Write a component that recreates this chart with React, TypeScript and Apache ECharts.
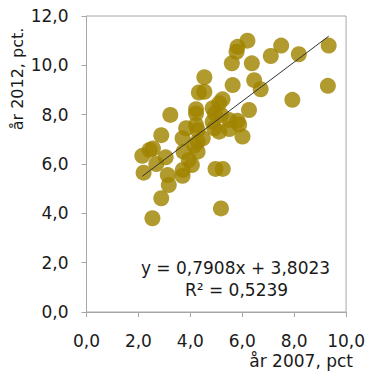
import React, { useEffect, useRef } from "react";
import * as echarts from "echarts";

const x2007: number[] = [
  6.2, 5.82, 5.78, 7.5, 7.1, 8.18, 9.33, 5.6, 6.37, 4.54,
  5.63, 6.46, 6.71, 9.3, 7.93, 4.33, 4.54, 5.24, 5.11, 6.26,
  3.23, 4.22, 4.22, 4.86, 4.95, 5.18, 4.86, 5.5, 5.82, 5.88,
  3.84, 2.88, 6.01, 4.28, 5.11, 5.5, 4.92, 4.22, 3.7, 4.48,
  4.28, 4.16, 2.43, 2.15, 3.05, 3.74, 4.28, 3.94, 2.69, 2.2,
  3.13, 3.7, 4.06, 4.97, 5.25, 3.17, 2.88, 2.54, 5.18, 3.71,
  2.56,
];
const y2012: number[] = [
  11.0, 10.75, 10.55, 10.8, 10.38, 10.45, 10.8, 10.08, 10.08, 9.52,
  9.2, 9.4, 9.03, 9.17, 8.6, 8.9, 8.93, 8.62, 8.46, 8.19,
  7.99, 8.05, 8.22, 8.26, 8.05, 7.99, 7.71, 7.78, 7.75, 7.6,
  7.45, 7.17, 7.11, 7.38, 7.31, 7.42, 7.45, 7.58, 7.04, 7.04,
  6.9, 6.75, 6.57, 6.33, 6.27, 6.5, 6.5, 6.16, 6.0, 5.65,
  5.55, 5.52, 5.96, 5.8, 5.8, 5.15, 4.61, 3.8, 4.2, 5.76,
  6.63,
];
const slope = 0.7908;
const intercept = 3.8023;
const equationText = "y = 0,7908x + 3,8023";
const r2Text = "R² = 0,5239";
const xTitle = "år 2007, pct";
const yTitle = "år 2012, pct.";

const fmt = (v: number) => v.toFixed(1).replace(".", ",");

export default function App() {
  const ref = useRef<HTMLDivElement>(null);
  useEffect(() => {
    if (!ref.current) return;
    const chart = echarts.init(ref.current, undefined, { renderer: "svg" });
    const pts = x2007.map((x, i) => [x, y2012[i]]);
    const xmin = Math.min(...x2007);
    const xmax = Math.max(...x2007);
    const trend = [
      [xmin, slope * xmin + intercept],
      [xmax, slope * xmax + intercept],
    ];
    const font = "DejaVu Sans";
    chart.setOption({
      animation: false,
      grid: {
        left: 86.5,
        right: 20.5,
        top: 16,
        bottom: 59,
        show: true,
        borderColor: "#a6a6a6",
        borderWidth: 1,
        backgroundColor: "transparent",
      },
      xAxis: {
        type: "value",
        min: 0,
        max: 10,
        interval: 2,
        axisLine: { show: true, lineStyle: { color: "#a6a6a6" } },
        axisTick: { show: true, length: 5, lineStyle: { color: "#a6a6a6" } },
        splitLine: { show: false },
        axisLabel: {
          formatter: fmt,
          fontFamily: font,
          fontSize: 17,
          color: "#1a1a1a",
          margin: 20,
        },
      },
      yAxis: {
        type: "value",
        min: 0,
        max: 12,
        interval: 2,
        axisLine: { show: true, lineStyle: { color: "#a6a6a6" } },
        axisTick: { show: true, length: 5, lineStyle: { color: "#a6a6a6" } },
        splitLine: { show: false },
        axisLabel: {
          formatter: fmt,
          fontFamily: font,
          fontSize: 17,
          color: "#1a1a1a",
          margin: 18,
        },
      },
      series: [
        {
          type: "scatter",
          data: pts,
          symbol: "circle",
          symbolSize: 16,
          itemStyle: { color: "rgb(160,132,0)", opacity: 0.82 },
          z: 2,
        },
        {
          type: "line",
          data: trend,
          showSymbol: false,
          symbol: "none",
          lineStyle: { color: "#333333", width: 1 },
          z: 3,
        },
      ],
      graphic: [
        {
          type: "text",
          x: 17,
          y: 79,
          rotation: Math.PI / 2,
          style: {
            text: yTitle,
            fontFamily: font,
            fontSize: 16,
            fill: "#1a1a1a",
            align: "center",
            verticalAlign: "middle",
          },
        },
        {
          type: "text",
          x: 353,
          y: 361,
          style: {
            text: xTitle,
            fontFamily: font,
            fontSize: 17,
            fill: "#1a1a1a",
            align: "right",
            verticalAlign: "middle",
          },
        },
        {
          type: "text",
          x: 235.5,
          y: 268,
          style: {
            text: equationText,
            fontFamily: font,
            fontSize: 17,
            fill: "#1a1a1a",
            align: "center",
            verticalAlign: "middle",
          },
        },
        {
          type: "text",
          x: 236.5,
          y: 290,
          style: {
            text: r2Text,
            fontFamily: font,
            fontSize: 17,
            fill: "#1a1a1a",
            align: "center",
            verticalAlign: "middle",
          },
        },
      ],
    });
    return () => chart.dispose();
  }, []);
  return <div ref={ref} style={{ width: 368, height: 371, position: "absolute", left: 0, top: 0 }} />;
}
